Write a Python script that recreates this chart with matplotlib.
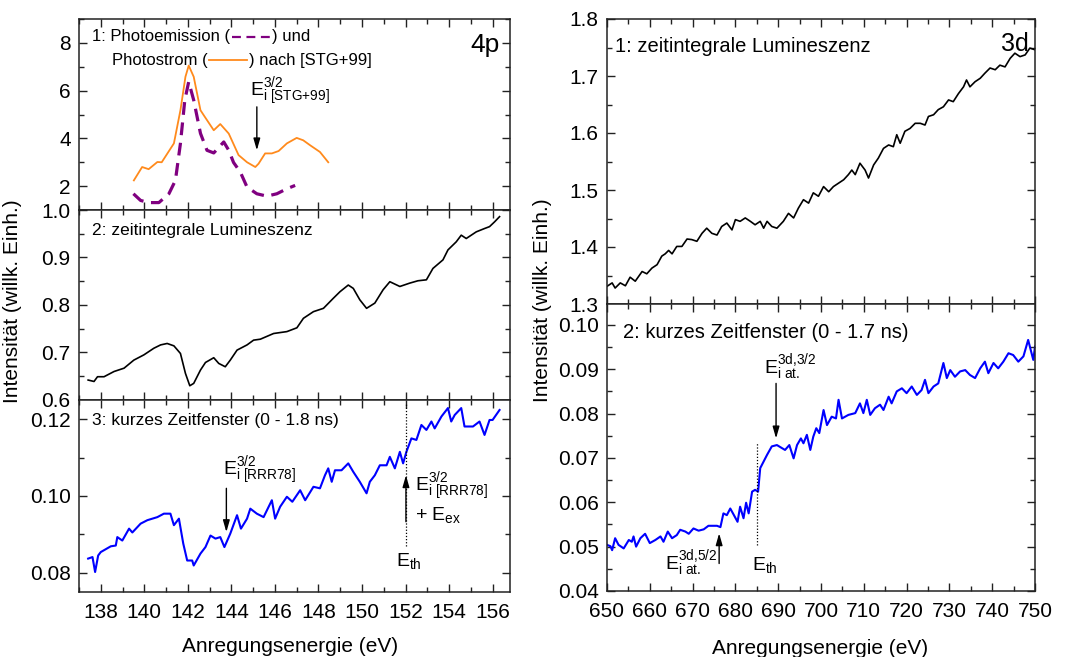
import matplotlib
matplotlib.use('Agg')
import matplotlib.pyplot as plt
from matplotlib.lines import Line2D
from matplotlib.ticker import MultipleLocator, FormatStrFormatter

plt.rcParams['font.family'] = ['Liberation Sans', 'DejaVu Sans']
plt.rcParams['mathtext.fontset'] = 'custom'
plt.rcParams['mathtext.rm'] = 'Liberation Sans'
plt.rcParams['mathtext.it'] = 'Liberation Sans:italic'

# 4p: photoemission / photocurrent after [STG+99]
pe_x = [139.5, 139.83, 140.21, 140.67, 141.13, 141.43, 141.66, 141.86, 142.04, 142.27,
        142.58, 142.88, 143.19, 143.65, 143.88, 144.1, 144.41, 144.72, 145.17, 145.63,
        146.09, 146.55, 146.93]
pe_y = [1.68, 1.40, 1.31, 1.31, 1.68, 2.24, 3.79, 5.6, 6.37, 5.6,
        4.21, 3.5, 3.39, 3.85, 3.5, 2.99, 2.59, 1.96, 1.68, 1.58,
        1.68, 1.89, 2.03]
ps_x = [139.52, 139.9, 140.2, 140.6, 140.8, 141.36, 141.66, 141.89, 142.04, 142.27,
        142.58, 142.73, 143.19, 143.49, 143.88, 144.33, 144.72, 145.1, 145.25, 145.55,
        145.86, 146.17, 146.55, 147.0, 147.3, 147.62, 148.07, 148.45]
ps_y = [2.24, 2.80, 2.71, 3.01, 3.0, 3.79, 5.18, 6.58, 7.05, 6.58,
        5.18, 4.97, 4.34, 4.6, 4.2, 3.3, 3.0, 2.8, 2.94, 3.37,
        3.37, 3.47, 3.79, 4.02, 3.92, 3.71, 3.43, 3.0]

# 4p: time-integrated luminescence
lum4_x = [137.42, 137.69, 137.85, 138.15, 138.61, 139.07, 139.52, 139.98, 140.44, 140.75,
          141.05, 141.36, 141.66, 141.89, 142.09, 142.27, 142.58, 142.81, 143.19, 143.42,
          143.72, 143.95, 144.26, 144.72, 145.02, 145.33, 145.94, 146.55, 147.01, 147.31,
          147.77, 148.23, 148.68, 148.99, 149.37, 149.6, 149.9, 150.21, 150.59, 150.97,
          151.28, 151.74, 152.19, 152.57, 152.96, 153.26, 153.72, 153.95, 154.33, 154.56,
          154.79, 155.25, 155.63, 155.86, 156.09, 156.32]
lum4_y = [0.642, 0.639, 0.649, 0.649, 0.660, 0.667, 0.684, 0.695, 0.709, 0.716,
          0.719, 0.714, 0.698, 0.656, 0.630, 0.635, 0.663, 0.679, 0.689, 0.677,
          0.670, 0.684, 0.705, 0.716, 0.726, 0.728, 0.740, 0.744, 0.752, 0.772,
          0.786, 0.793, 0.814, 0.828, 0.842, 0.835, 0.811, 0.793, 0.804, 0.832,
          0.849, 0.839, 0.846, 0.851, 0.853, 0.877, 0.895, 0.916, 0.933, 0.947,
          0.940, 0.954, 0.961, 0.965, 0.975, 0.986]

# 4p: short time window (0 - 1.8 ns)
short4_x = [137.42, 137.62, 137.74, 137.88, 138.0, 138.46, 138.69, 138.76, 138.99, 139.3,
            139.45, 139.83, 140.14, 140.6, 140.9, 141.2, 141.36, 141.59, 141.79, 141.97,
            142.2, 142.27, 142.58, 142.81, 143.04, 143.27, 143.49, 143.68, 143.95, 144.26,
            144.44, 144.72, 144.87, 145.17, 145.48, 145.86, 146.01, 146.24, 146.55, 146.8,
            147.16, 147.39, 147.77, 148.07, 148.3, 148.45, 148.61, 148.76, 149.06, 149.37,
            149.6, 149.9, 150.21, 150.36, 150.59, 150.82, 151.13, 151.28, 151.51, 151.74,
            151.89, 152.04, 152.27, 152.5, 152.73, 152.96, 153.19, 153.34, 153.65, 153.95,
            154.1, 154.26, 154.56, 154.71, 155.1, 155.4, 155.63, 155.86, 156.0, 156.32]
short4_y = [0.0837, 0.0841, 0.0802, 0.0845, 0.0854, 0.0869, 0.0871, 0.0893, 0.0884, 0.0915,
            0.0905, 0.0928, 0.0937, 0.0945, 0.0954, 0.0954, 0.0924, 0.0941, 0.0876, 0.0832,
            0.0832, 0.0819, 0.0850, 0.0867, 0.0897, 0.0889, 0.0893, 0.0867, 0.0902, 0.0950,
            0.0915, 0.0941, 0.0967, 0.0954, 0.0945, 0.0989, 0.0941, 0.0972, 0.0998, 0.0985,
            0.1015, 0.0989, 0.1024, 0.1020, 0.1054, 0.1072, 0.1037, 0.1067, 0.1067, 0.1085,
            0.1063, 0.1037, 0.1007, 0.1037, 0.1054, 0.1080, 0.1080, 0.1102, 0.1072, 0.1115,
            0.1085, 0.1115, 0.1150, 0.1146, 0.1185, 0.1172, 0.1194, 0.1176, 0.1207, 0.1229,
            0.1194, 0.1211, 0.1229, 0.1181, 0.1181, 0.1194, 0.1159, 0.1198, 0.1198, 0.1224]

# 3d: time-integrated luminescence
lum3_x = [650.0, 651.2, 651.9, 653.1, 654.3, 655.4, 656.6, 658.2, 659.3, 660.5,
          661.7, 662.8, 663.6, 664.4, 665.2, 666.3, 667.5, 668.7, 669.8, 671.0,
          672.2, 673.3, 674.5, 675.7, 676.8, 678.0, 679.2, 680.0, 681.1, 682.3,
          683.5, 684.6, 685.8, 686.6, 687.4, 688.5, 689.7, 691.2, 692.4, 693.6,
          694.7, 695.9, 697.1, 698.2, 699.4, 700.6, 701.8, 702.9, 704.1, 705.3,
          706.4, 707.2, 708.0, 709.1, 710.3, 711.1, 712.3, 713.4, 714.6, 715.8,
          716.9, 717.7, 718.5, 719.6, 720.8, 722.0, 723.2, 724.3, 725.1, 726.3,
          727.4, 728.6, 729.8, 730.9, 732.1, 733.3, 734.0, 734.8, 736.0, 737.2,
          738.3, 739.5, 740.7, 741.8, 743.0, 744.2, 745.3, 746.5, 747.7, 748.8, 750.0]
lum3_y = [1.331, 1.337, 1.328, 1.337, 1.332, 1.347, 1.340, 1.357, 1.353, 1.363,
          1.369, 1.384, 1.388, 1.394, 1.388, 1.401, 1.401, 1.414, 1.413, 1.410,
          1.424, 1.433, 1.424, 1.421, 1.436, 1.442, 1.430, 1.448, 1.445, 1.451,
          1.445, 1.439, 1.445, 1.433, 1.445, 1.436, 1.433, 1.445, 1.459, 1.451,
          1.468, 1.483, 1.477, 1.495, 1.489, 1.506, 1.497, 1.506, 1.512, 1.518,
          1.527, 1.535, 1.527, 1.547, 1.535, 1.521, 1.544, 1.556, 1.573, 1.579,
          1.576, 1.597, 1.582, 1.603, 1.608, 1.617, 1.617, 1.614, 1.629, 1.632,
          1.641, 1.646, 1.658, 1.655, 1.669, 1.681, 1.693, 1.681, 1.690, 1.696,
          1.705, 1.714, 1.711, 1.719, 1.716, 1.731, 1.740, 1.734, 1.737, 1.749, 1.746]

# 3d: short time window (0 - 1.7 ns)
short3_x = [650.0, 650.8, 651.2, 651.9, 652.7, 653.9, 655.1, 655.8, 656.2, 656.8,
            657.8, 658.9, 660.0, 661.3, 662.5, 663.2, 664.2, 665.2, 666.3, 667.1,
            668.3, 669.1, 670.2, 671.4, 672.6, 673.7, 675.7, 676.5, 677.2, 678.0,
            678.8, 679.6, 680.5, 681.1, 681.9, 682.5, 683.1, 683.9, 684.6, 685.3,
            685.8, 686.6, 687.4, 688.5, 689.7, 690.9, 691.6, 692.6, 693.6, 694.4,
            695.3, 695.9, 696.7, 697.5, 698.2, 698.9, 699.6, 700.6, 701.4, 702.5,
            703.5, 704.1, 704.9, 706.4, 708.0, 709.1, 709.9, 710.7, 711.5, 712.6,
            713.8, 714.6, 715.8, 716.5, 717.7, 718.9, 720.0, 721.2, 722.4, 723.5,
            724.3, 725.1, 726.3, 727.4, 728.6, 729.4, 730.2, 731.3, 732.5, 733.7,
            734.8, 736.0, 737.2, 738.3, 739.1, 740.3, 741.4, 742.6, 743.8, 744.9,
            746.1, 747.3, 748.4, 749.6, 750.0]
short3_y = [0.0504, 0.0501, 0.0492, 0.0519, 0.0504, 0.0496, 0.0515, 0.0511, 0.0523, 0.0500,
            0.0519, 0.0529, 0.0508, 0.0515, 0.0523, 0.0511, 0.0534, 0.0519, 0.0526, 0.0538,
            0.0534, 0.0529, 0.0541, 0.0536, 0.0539, 0.0547, 0.0547, 0.0544, 0.0575, 0.0571,
            0.0586, 0.0572, 0.0556, 0.0590, 0.0564, 0.0599, 0.0575, 0.0624, 0.0628, 0.0624,
            0.0677, 0.0692, 0.0707, 0.0726, 0.0729, 0.0722, 0.0718, 0.0729, 0.0699, 0.0729,
            0.0744, 0.0733, 0.0752, 0.0718, 0.0748, 0.0767, 0.0756, 0.0808, 0.0774, 0.0793,
            0.0789, 0.0831, 0.0789, 0.0797, 0.0801, 0.0823, 0.0801, 0.0831, 0.0797, 0.0812,
            0.0820, 0.0808, 0.0838, 0.0823, 0.0850, 0.0857, 0.0846, 0.0861, 0.0842, 0.0853,
            0.0876, 0.0846, 0.0861, 0.0868, 0.0914, 0.0880, 0.0898, 0.0883, 0.0895, 0.0898,
            0.0887, 0.0880, 0.0902, 0.0917, 0.0891, 0.0914, 0.0902, 0.0917, 0.0936, 0.0932,
            0.0917, 0.0929, 0.0966, 0.0921, 0.0951]

W, H = 1068, 657
fig = plt.figure(figsize=(W / 100, H / 100), dpi=100)


def box(x0, y0, x1, y1):
    # pixel box (from top-left) -> figure fraction rect
    return [x0 / W, 1 - y1 / H, (x1 - x0) / W, (y1 - y0) / H]


def fpos(x, y):
    return x / W, 1 - y / H


def style(ax, xmaj, xmin, ymaj, ymin, fmt=None):
    ax.xaxis.set_major_locator(MultipleLocator(xmaj))
    ax.xaxis.set_minor_locator(MultipleLocator(xmin))
    ax.yaxis.set_major_locator(MultipleLocator(ymaj))
    ax.yaxis.set_minor_locator(MultipleLocator(ymin))
    if fmt:
        ax.yaxis.set_major_formatter(FormatStrFormatter(fmt))
    ax.tick_params(which='both', direction='in', top=True, right=True,
                   labelsize=15, width=1, color='#222222')
    ax.tick_params(which='major', length=6)
    ax.tick_params(which='minor', length=3.5)
    ax.tick_params(axis='y', pad=6)
    ax.tick_params(axis='x', pad=8)
    for s in ax.spines.values():
        s.set_linewidth(1.1)
        s.set_color('#222222')


arrow = dict(arrowstyle='-|>,head_length=0.7,head_width=0.2', color='k',
             lw=1, shrinkA=0, shrinkB=0, mutation_scale=10)
lab = dict(fontsize=14, ha='left', va='center')

# ---- 4p column ----
ax1 = fig.add_axes(box(79, 19, 510, 210))
ax2 = fig.add_axes(box(79, 210, 510, 400))
ax3 = fig.add_axes(box(79, 400, 510, 592))

ax1.plot(ps_x, ps_y, color='#ff8a1c', lw=1.3)
ax1.plot(pe_x, pe_y, color='#800080', lw=2.3, dashes=(4, 2.4))
ax1.set_ylim(1, 9)
style(ax1, 2, 1, 2, 1)
ax1.set_yticks([2, 4, 6, 8])
ax1.annotate('', xy=(145.17, 3.5), xytext=(145.17, 5.32), arrowprops=arrow)
ax1.text(144.87, 5.95, r'$\mathrm{E}^{3/2}_{\mathrm{i\ [STG{+}99]}}$', **lab)

ax2.plot(lum4_x, lum4_y, color='k', lw=1.2)
ax2.set_ylim(0.6, 1.0)
style(ax2, 2, 1, 0.1, 0.05, '%.1f')

ax3.plot(short4_x, short4_y, color='#0000ff', lw=1.5)
ax3.set_ylim(0.075, 0.125)
style(ax3, 2, 1, 0.02, 0.01, '%.2f')
ax3.plot([152.0, 152.0], [0.0871, 0.1243], color='k', lw=0.9, ls=(0, (1, 1.5)))
ax3.annotate('', xy=(143.77, 0.0906), xytext=(143.77, 0.1020), arrowprops=arrow)
ax3.annotate('', xy=(152.02, 0.1054), xytext=(152.02, 0.0933), arrowprops=arrow)
ax3.text(143.63, 0.1066, r'$\mathrm{E}^{3/2}_{\mathrm{i\ [RRR78]}}$', **lab)
ax3.text(152.43, 0.1023, r'$\mathrm{E}^{3/2}_{\mathrm{i\ [RRR78]}}$', **lab)
ax3.text(152.43, 0.0950, r'+ $\mathrm{E}_{\mathrm{ex}}$', **lab)
ax3.text(151.58, 0.0832, r'$\mathrm{E}_{\mathrm{th}}$', **lab)

for ax in (ax1, ax2, ax3):
    ax.set_xlim(137.0, 156.8)
for ax in (ax1, ax2):
    ax.tick_params(labelbottom=False)

fig.text(*fpos(91.7, 230.7), '2: zeitintegrale Lumineszenz', fontsize=12.5, va='center')
fig.text(*fpos(91.7, 420.7), '3: kurzes Zeitfenster (0 - 1.8 ns)', fontsize=12.5,
         va='center')
fig.text(*fpos(499.5, 51.7), '4p', fontsize=19, ha='right', va='baseline')

# ---- 3d column ----
ax4 = fig.add_axes(box(607, 19, 1035, 304))
ax5 = fig.add_axes(box(607, 304, 1035, 591))

ax4.plot(lum3_x, lum3_y, color='k', lw=1.2)
ax4.set_ylim(1.3, 1.8)
style(ax4, 10, 5, 0.1, 0.05, '%.1f')
ax4.tick_params(labelbottom=False)

ax5.plot(short3_x, short3_y, color='#0000ff', lw=1.5)
ax5.set_ylim(0.04, 0.1047)
style(ax5, 10, 5, 0.01, 0.005, '%.2f')
ax5.plot([685.0, 685.0], [0.0504, 0.0733], color='k', lw=0.9, ls=(0, (1, 1.5)))
ax5.annotate('', xy=(689.5, 0.0744), xytext=(689.5, 0.0868), arrowprops=arrow)
ax5.annotate('', xy=(676.2, 0.0530), xytext=(676.2, 0.0462), arrowprops=arrow)
ax5.text(686.6, 0.0904, r'$\mathrm{E}^{\mathrm{3d{,}3/2}}_{\mathrm{i\ at.}}$', **lab)
ax5.text(675.7, 0.0461, r'$\mathrm{E}^{\mathrm{3d{,}5/2}}_{\mathrm{i\ at.}}$',
         fontsize=14, ha='right', va='center')
ax5.text(683.9, 0.0459, r'$\mathrm{E}_{\mathrm{th}}$', **lab)

for ax in (ax4, ax5):
    ax.set_xlim(650, 750)

fig.text(*fpos(615, 46), '1: zeitintegrale Lumineszenz', fontsize=14.5, va='center')
fig.text(*fpos(622.7, 332.7), '2: kurzes Zeitfenster (0 - 1.7 ns)', fontsize=14.5,
         va='center')
fig.text(*fpos(1029, 50.7), '3d', fontsize=18, ha='right', va='baseline')

# axis titles
fig.text(*fpos(12.5, 301), 'Intensität (willk. Einh.)', rotation=90,
         ha='center', va='center', fontsize=15)
fig.text(*fpos(542, 300), 'Intensität (willk. Einh.)', rotation=90,
         ha='center', va='center', fontsize=15)
fig.text(*fpos(290, 646), 'Anregungsenergie (eV)', ha='center', va='center', fontsize=15)
fig.text(*fpos(820, 649), 'Anregungsenergie (eV)', ha='center', va='center', fontsize=15)

# inline legend of panel 1, with line samples between the words
fig.canvas.draw()
rend = fig.canvas.get_renderer()


def sample_line(x, y, parts, line_kw):
    t = fig.text(*fpos(x, y), parts[0], fontsize=12, va='center')
    bb = t.get_window_extent(rend)
    xa = bb.x1 + 2
    xb = xa + 38
    yd = H - y
    fig.add_artist(Line2D([xa / W, xb / W], [yd / H, yd / H],
                          transform=fig.transFigure, **line_kw))
    fig.text((xb + 2) / W, yd / H, parts[1], fontsize=12, va='center')


sample_line(91.7, 36.7, ['1: Photoemission (', ') und'],
            dict(color='#800080', lw=1.6, dashes=(4, 2.5)))
sample_line(111.7, 60.0, ['Photostrom (', ') nach [STG+99]'],
            dict(color='#ff8a1c', lw=1.3))

fig.savefig('out.png', dpi=100)
